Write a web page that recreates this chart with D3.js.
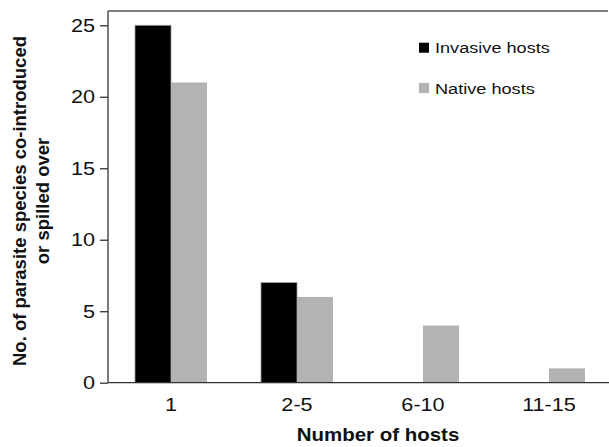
<!DOCTYPE html>
<html>
  <head>
    <title>Parasite species by number of hosts</title>
    <script src="https://d3js.org/d3.v7.min.js"></script>
    <style>
      body { margin: 0; background: #fff; }
      text { font-family: "Liberation Sans", Arial, sans-serif; fill: #111; }
    </style>
  </head>
  <body>
    <svg width="609" height="447"></svg>
    <script>
      const categories = ["1", "2-5", "6-10", "11-15"];
      const series = ["Invasive hosts", "Native hosts"];
      const invasive = [25, 7, 0, 0];
      const native = [21, 6, 4, 1];
      const yTicks = [0, 5, 10, 15, 20, 25];
      const colors = ["#000000", "#b3b3b3"];
      const yTitleLines = ["No. of parasite species co-introduced", "or spilled over"];

      const values = [invasive, native];
      const rows = categories.map((c, i) => ({
        cat: c,
        vals: series.map((s, j) => ({ key: s, idx: j, value: values[j][i] }))
      }));

      const svg = d3.select("svg");
      const stretch = 1.17; // horizontal text in the figure is wider than normal

      const x0 = d3.scaleBand().domain(categories).range([108, 612]);
      const x1 = d3.scaleBand().domain(series)
        .range([0, x0.bandwidth()]).paddingOuter(0.75);
      const y = d3.scaleLinear().domain([0, 26]).range([382.7, 11]);

      // bars
      svg.append("g").selectAll("g")
        .data(rows)
        .join("g")
          .attr("transform", d => `translate(${x0(d.cat)},0)`)
        .selectAll("rect")
        .data(d => d.vals.filter(v => v.value > 0))
        .join("rect")
          .attr("x", d => x1(d.key))
          .attr("width", x1.bandwidth())
          .attr("y", d => y(d.value))
          .attr("height", d => y(0) - y(d.value))
          .attr("fill", d => colors[d.idx])
          .attr("stroke", d => d.idx === 0 ? "#9a9a9a" : "none")
          .attr("stroke-width", 0.8);

      // y axis
      const yAxis = svg.append("g")
        .attr("transform", "translate(108,0)")
        .call(d3.axisLeft(y).tickValues(yTicks).tickSize(8).tickPadding(5));
      yAxis.selectAll("path, line").attr("stroke", "#333").attr("stroke-width", 1.3);
      yAxis.select(".domain").attr("d", `M0,${y(26)}V${y(0)}`);
      yAxis.selectAll("text")
        .attr("font-size", 18.5)
        .attr("font-family", "Liberation Sans, Arial, sans-serif")
        .attr("fill", "#111")
        .attr("transform", `translate(-13,0) scale(${stretch},1) translate(13,0)`);

      // x axis
      const xAxis = svg.append("g")
        .attr("transform", `translate(0,${y(0)})`)
        .call(d3.axisBottom(x0).tickSize(0).tickPadding(15));
      xAxis.select(".domain").attr("stroke", "#333").attr("stroke-width", 1.3)
        .attr("d", "M108,0H609");
      xAxis.selectAll("text")
        .attr("font-size", 18.5)
        .attr("font-family", "Liberation Sans, Arial, sans-serif")
        .attr("fill", "#111")
        .attr("transform", `scale(${stretch},1)`);

      // top frame line
      svg.append("line")
        .attr("x1", 108).attr("x2", 608)
        .attr("y1", y(26)).attr("y2", y(26))
        .attr("stroke", "#555").attr("stroke-width", 1.5);

      // axis titles
      svg.append("text")
        .attr("transform", `translate(378,441) scale(${stretch},1)`)
        .attr("text-anchor", "middle")
        .attr("font-size", 17.5)
        .attr("font-weight", "bold")
        .text("Number of hosts");

      // y title: centre each line by its measured length
      svg.append("g").selectAll("text")
        .data(yTitleLines)
        .join("text")
          .attr("font-size", 18.5)
          .attr("font-weight", "bold")
          .text(d => d)
          .each(function (d, i) {
            const len = this.getComputedTextLength();
            d3.select(this)
              .attr("transform", `translate(${26 + i * 23},${201 + len / 2}) rotate(-90)`);
          });

      // legend
      const legend = svg.append("g").selectAll("g")
        .data(series)
        .join("g")
          .attr("transform", (d, i) => `translate(419,${42.7 + i * 40.3})`);
      legend.append("rect")
        .attr("width", 10).attr("height", 10)
        .attr("fill", (d, i) => colors[i]);
      legend.append("text")
        .attr("transform", `translate(16,10.5) scale(${stretch},1)`)
        .attr("font-size", 15.5)
        .text(d => d);
    </script>
  </body>
</html>
